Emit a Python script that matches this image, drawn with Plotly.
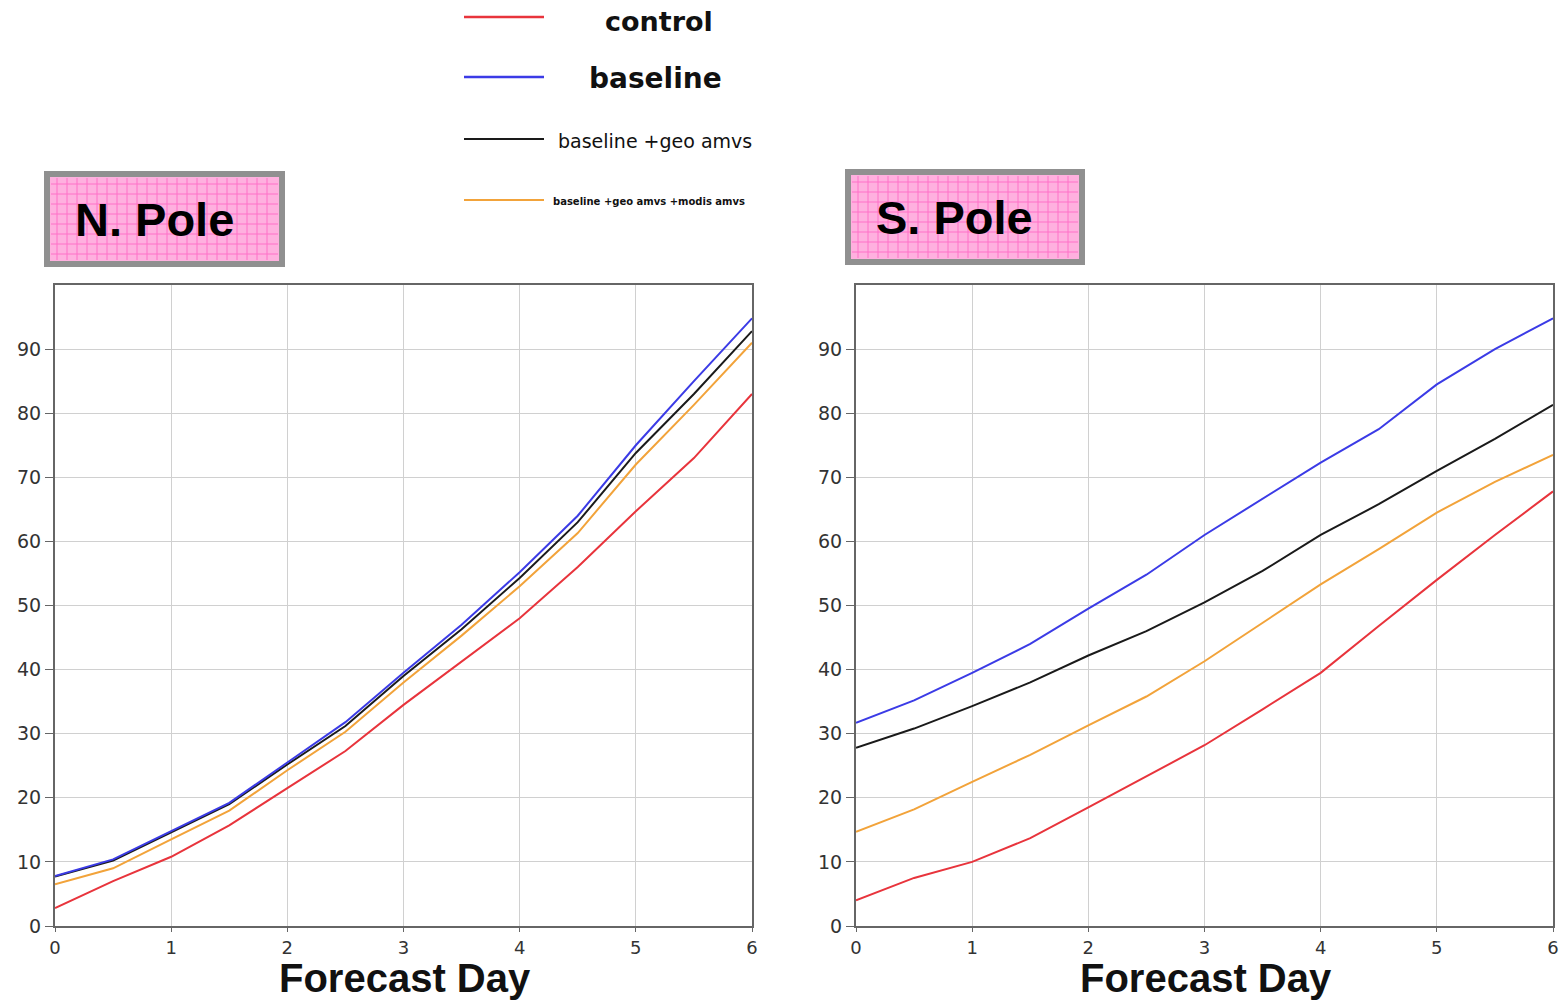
import plotly.graph_objects as go

days = [0, 0.5, 1, 1.5, 2, 2.5, 3, 3.5, 4, 4.5, 5, 5.5, 6]
series_names = ["control", "baseline", "baseline +geo amvs", "baseline +geo amvs +modis amvs"]
colors = ["#e8343c", "#3b3be6", "#1a1a1a", "#f2a33a"]

npole_control = [2.8, 7.0, 10.8, 15.7, 21.5, 27.3, 34.5, 41.3, 48.0, 56.0, 64.7, 73.0, 83.0]
npole_baseline = [7.8, 10.4, 14.8, 19.2, 25.5, 31.8, 39.5, 47.0, 55.2, 64.0, 75.0, 85.0, 94.8]
npole_geo = [7.7, 10.2, 14.6, 19.0, 25.2, 31.2, 39.0, 46.3, 54.3, 63.0, 73.8, 83.0, 92.8]
npole_modis = [6.5, 9.0, 13.5, 18.0, 24.3, 30.3, 38.0, 45.3, 53.0, 61.3, 72.0, 81.3, 91.0]

spole_control = [4.0, 7.5, 10.0, 13.7, 18.5, 23.3, 28.2, 33.8, 39.5, 46.8, 54.0, 61.0, 67.8]
spole_baseline = [31.7, 35.2, 39.5, 44.0, 49.5, 54.8, 61.0, 66.7, 72.3, 77.5, 84.5, 90.0, 94.8]
spole_geo = [27.8, 30.8, 34.3, 38.0, 42.2, 46.0, 50.5, 55.4, 61.0, 65.8, 71.0, 76.0, 81.3]
spole_modis = [14.7, 18.2, 22.5, 26.7, 31.3, 35.8, 41.3, 47.3, 53.3, 58.8, 64.5, 69.3, 73.5]

x_ticks = [0, 1, 2, 3, 4, 5, 6]
y_ticks = [0, 10, 20, 30, 40, 50, 60, 70, 80, 90]
panel_titles = ["N. Pole", "S. Pole"]
x_title = "Forecast Day"

W, H = 1562, 1000
def px(x): return x / W
def py(y): return 1 - y / H

fig = go.Figure()
npole = [npole_control, npole_baseline, npole_geo, npole_modis]
spole = [spole_control, spole_baseline, spole_geo, spole_modis]

order = [3, 0, 2, 1]
for i in order:
    fig.add_trace(go.Scatter(x=days, y=npole[i], mode="lines", name=series_names[i],
                             line=dict(color=colors[i], width=2), xaxis="x", yaxis="y",
                             showlegend=False))
for i in order:
    fig.add_trace(go.Scatter(x=days, y=spole[i], mode="lines", name=series_names[i],
                             line=dict(color=colors[i], width=2), xaxis="x2", yaxis="y2",
                             showlegend=False))

ax_common = dict(range=[0, 6], tickvals=x_ticks, showgrid=True, gridcolor="#d0d0d0", gridwidth=1,
                 showline=True, linecolor="#666666", linewidth=2, mirror=True,
                 ticks="outside", ticklen=4, tickcolor="#666666", zeroline=False, automargin=False,
                 tickfont=dict(family="DejaVu Sans", size=18, color="#333333"))
ay_common = dict(range=[0, 100], tickvals=y_ticks, showgrid=True, gridcolor="#d0d0d0", gridwidth=1,
                 showline=True, linecolor="#666666", linewidth=2, mirror=True,
                 ticks="outside", ticklen=8, tickcolor="#666666", zeroline=False, automargin=False,
                 tickfont=dict(family="DejaVu Sans", size=19, color="#333333"))

ydom = [py(926), py(285)]
fig.update_layout(
    width=W, height=H, margin=dict(l=0, r=0, t=0, b=0, autoexpand=False),
    paper_bgcolor="white", plot_bgcolor="white", showlegend=False,
    xaxis=dict(domain=[px(55), px(752)], anchor="y", **ax_common),
    yaxis=dict(domain=ydom, anchor="x", **ay_common),
    xaxis2=dict(domain=[px(856), px(1553)], anchor="y2", **ax_common),
    yaxis2=dict(domain=ydom, anchor="x2", **ay_common),
)

shapes = []
annotations = []

# x-axis titles
for xc in (405, 1206):
    annotations.append(dict(xref="paper", yref="paper", x=px(xc), y=0, yshift=-2,
                            xanchor="center", yanchor="bottom", showarrow=False,
                            text="<b>" + x_title + "</b>",
                            font=dict(family="Liberation Sans", size=40, color="#111111")))

# Title boxes
boxes = [(47, 174, 282, 264), (848, 172, 1082, 262)]
for (x0, y0, x1, y1) in boxes:
    shapes.append(dict(type="rect", xref="paper", yref="paper", x0=px(x0), x1=px(x1),
                       y0=py(y1), y1=py(y0), fillcolor="#ffb0df",
                       line=dict(color="#909090", width=6), layer="below"))
    gx = x0 + 10
    while gx < x1 - 5:
        shapes.append(dict(type="line", xref="paper", yref="paper", x0=px(gx), x1=px(gx),
                           y0=py(y1 - 4), y1=py(y0 + 4), line=dict(color="#ff70c8", width=1)))
        gx += 10
    gy = y0 + 10
    while gy < y1 - 5:
        shapes.append(dict(type="line", xref="paper", yref="paper", x0=px(x0 + 4), x1=px(x1 - 4),
                           y0=py(gy), y1=py(gy), line=dict(color="#ff70c8", width=1)))
        gy += 10
for (x0, y0, x1, y1), t in zip(boxes, panel_titles):
    annotations.append(dict(xref="paper", yref="paper", x=px(x0 + 26), y=py((y0 + y1) / 2 + 1),
                            xanchor="left", yanchor="middle", showarrow=False,
                            text="<b>" + t + "</b>",
                            font=dict(family="Liberation Sans", size=47, color="#000000")))

# Legend
leg_y = [17, 77, 139, 200]
leg_text_x = [659, 655, 655, 649]
leg_text_y = [21, 79, 141, 202]
leg_sizes = [27, 28, 19, 10]
leg_bold = [True, True, False, True]
leg_widths = [2.5, 2.5, 2, 2]
for i in range(4):
    shapes.append(dict(type="line", xref="paper", yref="paper", x0=px(464), x1=px(544),
                       y0=py(leg_y[i]), y1=py(leg_y[i]), line=dict(color=colors[i], width=leg_widths[i])))
    txt = series_names[i]
    if leg_bold[i]:
        txt = "<b>" + txt + "</b>"
    annotations.append(dict(xref="paper", yref="paper", x=px(leg_text_x[i]), y=py(leg_text_y[i]),
                            xanchor="center", yanchor="middle", showarrow=False, text=txt,
                            font=dict(family="DejaVu Sans", size=leg_sizes[i], color="#111111")))

fig.update_layout(shapes=shapes, annotations=annotations)
fig.write_html("out.html", config={"displayModeBar": False},
               post_script="document.body.style.margin='0';document.body.style.overflow='hidden';")
